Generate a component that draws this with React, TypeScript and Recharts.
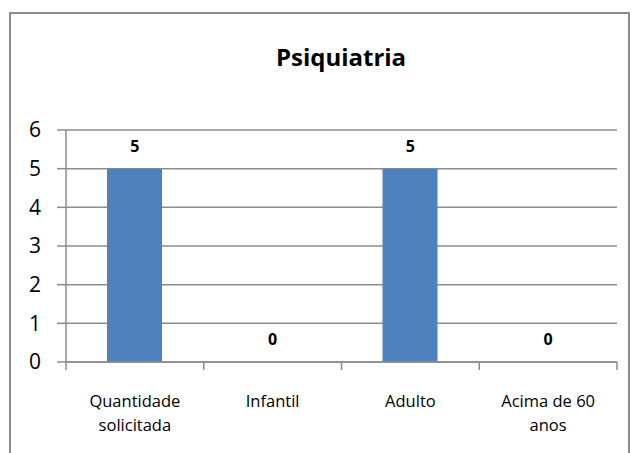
import { Bar, Line, XAxis, YAxis, CartesianGrid, LabelList, Text, ComposedChart } from 'recharts';

const categories = ['Quantidade solicitada', 'Infantil', 'Adulto', 'Acima de 60 anos'];
const values = [5, 0, 5, 0];
const yTicks = [0, 1, 2, 3, 4, 5, 6];

const data = categories.map((name, i) => ({ name, value: values[i] }));

const FONT = '"Open Sans", "Noto Sans", sans-serif';
const AXIS = '#8c8c8c';

// tick marks sit on the category boundaries, Excel style
function CategoryTick(props: any) {
  const { x, y, payload, index, visibleTicksCount } = props;
  const half = payload.offset ?? 0;
  const last = index === visibleTicksCount - 1;
  return (
    <g>
      <line x1={x - half} x2={x - half} y1={y} y2={y + 8} stroke={AXIS} strokeWidth={1.5} />
      {last && <line x1={x + half} x2={x + half} y1={y} y2={y + 8} stroke={AXIS} strokeWidth={1.5} />}
      <Text
        x={x}
        y={y + 33}
        width={118}
        textAnchor="middle"
        verticalAnchor="start"
        lineHeight={24}
        style={{ fontFamily: FONT, fontSize: 16.5, fill: '#000' }}
      >
        {payload.value}
      </Text>
    </g>
  );
}

export default function App() {
  return (
    <div style={{ position: 'absolute', left: 0, top: 0, width: 639, height: 453, background: '#fff', overflow: 'hidden' }}>
      <div
        style={{
          position: 'absolute',
          left: 9,
          top: 12,
          width: 621,
          height: 470,
          border: `2px solid ${AXIS}`,
          boxSizing: 'border-box',
        }}
      />
      <div
        style={{
          position: 'absolute',
          left: 0,
          width: 682,
          top: 40,
          textAlign: 'center',
          fontFamily: FONT,
          fontWeight: 700,
          fontSize: 24,
          color: '#000',
        }}
      >
        Psiquiatria
      </div>
      <ComposedChart
        width={639}
        height={453}
        data={data}
        margin={{ top: 130, right: 22, bottom: 0, left: 10 }}
        barCategoryGap={0}
        style={{ position: 'absolute', left: 0, top: 0 }}
      >
        <CartesianGrid vertical={false} stroke={AXIS} strokeWidth={1.5} />
        <XAxis
          dataKey="name"
          height={91}
          interval={0}
          tickLine={false}
          tickSize={0}
          tickMargin={0}
          axisLine={{ stroke: AXIS, strokeWidth: 1.5 }}
          tick={<CategoryTick />}
        />
        <YAxis
          domain={[0, 6]}
          ticks={yTicks}
          width={56}
          tickSize={9}
          tickMargin={16}
          axisLine={{ stroke: AXIS, strokeWidth: 1.5 }}
          tickLine={{ stroke: AXIS, strokeWidth: 1.5 }}
          tick={{ fontFamily: FONT, fontSize: 21, fill: '#000' }}
        />
        <Bar dataKey="value" fill="#4F81BD" barSize={55} isAnimationActive={false} />
        <Line
          dataKey="value"
          stroke="none"
          dot={false}
          activeDot={false}
          isAnimationActive={false}
        >
          <LabelList
            dataKey="value"
            position="top"
            offset={17}
            style={{ fontFamily: FONT, fontSize: 16, fontWeight: 700, fill: '#000' }}
          />
        </Line>
      </ComposedChart>
    </div>
  );
}
